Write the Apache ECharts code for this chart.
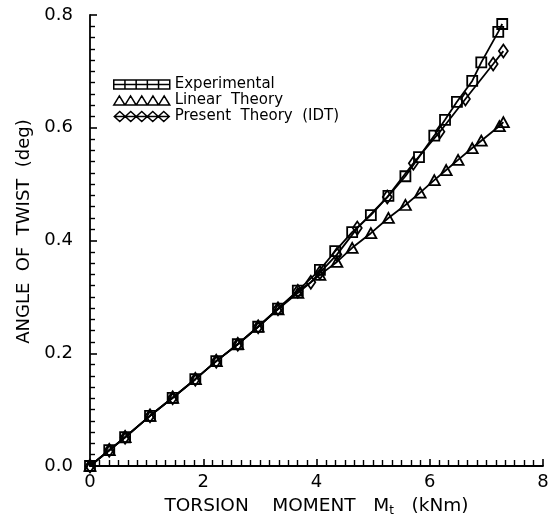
<!DOCTYPE html>
<html>
<head>
<meta charset="utf-8">
<script src="https://cdn.jsdelivr.net/npm/echarts@6/dist/echarts.min.js"></script>
<style>
  html, body { margin: 0; padding: 0; background: #fff; }
  #chart { width: 556px; height: 529px; }
</style>
</head>
<body>
<div id="chart"></div>
<script>
// torsion moment (kNm) and angle of twist (deg)
const expX = [0, 0.34, 0.62, 1.06, 1.46, 1.86, 2.23, 2.61, 2.97, 3.32, 3.67, 4.06, 4.33, 4.63, 4.96, 5.27, 5.57, 5.81, 6.08, 6.27, 6.48, 6.75, 6.91, 7.21, 7.28]
const expY = [0, 0.028, 0.051, 0.089, 0.121, 0.154, 0.186, 0.216, 0.247, 0.279, 0.311, 0.348, 0.381, 0.415, 0.445, 0.479, 0.514, 0.548, 0.586, 0.614, 0.646, 0.683, 0.716, 0.770, 0.784]

const linX = [0, 0.34, 0.62, 1.06, 1.46, 1.86, 2.23, 2.61, 2.97, 3.32, 3.67, 4.06, 4.36, 4.63, 4.96, 5.27, 5.57, 5.83, 6.08, 6.29, 6.50, 6.75, 6.91, 7.23, 7.30]
const linY = [0, 0.028, 0.051, 0.089, 0.121, 0.154, 0.186, 0.216, 0.247, 0.278, 0.307, 0.339, 0.362, 0.387, 0.413, 0.440, 0.463, 0.485, 0.507, 0.525, 0.543, 0.564, 0.577, 0.603, 0.610]

const idtX = [0, 0.34, 0.62, 1.06, 1.46, 1.86, 2.23, 2.61, 2.97, 3.32, 3.67, 3.90, 4.06, 4.36, 4.72, 5.25, 5.71, 6.18, 6.63, 7.12, 7.30]
const idtY = [0, 0.028, 0.051, 0.089, 0.121, 0.154, 0.186, 0.216, 0.247, 0.279, 0.310, 0.326, 0.343, 0.375, 0.422, 0.477, 0.537, 0.593, 0.651, 0.713, 0.736]

const xTicks = [0, 2, 4, 6, 8]
const yTicks = [0.0, 0.2, 0.4, 0.6, 0.8]

const pairs = (xs, ys) => xs.map((x, i) => [x, ys[i]])

const font = 'DejaVu Sans'

// five markers in a row for the legend keys
const iconSquares = 'path://M0 0h55v9h-55z M11 0v9 M22 0v9 M33 0v9 M44 0v9 M0 4.5h55'
const iconTriangles = 'path://M0 9L5.5 0L11 9Z M11 9L16.5 0L22 9Z M22 9L27.5 0L33 9Z M33 9L38.5 0L44 9Z M44 9L49.5 0L55 9Z M0 9h55'
const iconDiamonds = 'path://M0 5L5.5 0L11 5L5.5 10Z M11 5L16.5 0L22 5L16.5 10Z M22 5L27.5 0L33 5L27.5 10Z M33 5L38.5 0L44 5L38.5 10Z M44 5L49.5 0L55 5L49.5 10Z M0 5h55'

const chart = echarts.init(document.getElementById('chart'), null, { renderer: 'canvas' })

const seriesBase = {
  type: 'line',
  showAllSymbol: true,
  lineStyle: { color: '#000', width: 1.8 },
  itemStyle: { color: 'rgba(0,0,0,0)', borderColor: '#000', borderWidth: 1.8 },
  emphasis: { disabled: true },
  animation: false
}

chart.setOption({
  backgroundColor: '#fff',
  animation: false,
  grid: { left: 90, right: 13, top: 15, bottom: 63 },
  legend: {
    orient: 'vertical',
    left: 108,
    top: 72,
    itemWidth: 56,
    itemHeight: 10,
    itemGap: 1,
    itemStyle: { color: '#fff', borderColor: '#000', borderWidth: 1.5 },
    textStyle: { fontFamily: font, fontSize: 15, color: '#000', lineHeight: 14 },
    data: [
      { name: 'Experimental', icon: iconSquares },
      { name: 'Linear  Theory', icon: iconTriangles },
      { name: 'Present  Theory  (IDT)', icon: iconDiamonds }
    ]
  },
  xAxis: {
    type: 'value',
    min: xTicks[0],
    max: xTicks[xTicks.length - 1],
    interval: 2,
    name: 'TORSION    MOMENT   M{sub|t}   (kNm)',
    nameLocation: 'middle',
    nameGap: 29,
    nameTextStyle: {
      fontFamily: font, fontSize: 18.5, color: '#000',
      rich: { sub: { fontFamily: font, fontSize: 12, color: '#000', padding: [10, 0, 0, 0] } }
    },
    axisLine: { lineStyle: { color: '#000', width: 1.8 } },
    axisTick: { inside: true, length: 7, lineStyle: { color: '#000', width: 1.6 } },
    minorTick: { show: true, splitNumber: 12, length: 6, lineStyle: { color: '#000', width: 1.4 } },
    axisLabel: { fontFamily: font, fontSize: 18, color: '#000', margin: 7 },
    splitLine: { show: false }
  },
  yAxis: {
    type: 'value',
    min: yTicks[0],
    max: yTicks[yTicks.length - 1],
    interval: 0.2,
    name: 'ANGLE  OF  TWIST  (deg)',
    nameLocation: 'middle',
    nameGap: 51,
    nameTextStyle: { fontFamily: font, fontSize: 18, color: '#000', padding: [0, 0, 0, 18] },
    axisLine: { show: true, lineStyle: { color: '#000', width: 1.8 } },
    axisTick: { show: true, inside: true, length: 7, lineStyle: { color: '#000', width: 1.6 } },
    minorTick: { show: true, splitNumber: 10, length: 5, lineStyle: { color: '#000', width: 1.4 } },
    axisLabel: {
      fontFamily: font, fontSize: 18, color: '#000', margin: 17,
      formatter: (v) => v.toFixed(1)
    },
    splitLine: { show: false }
  },
  series: [
    Object.assign({}, seriesBase, {
      name: 'Experimental',
      symbol: 'rect',
      symbolSize: 10,
      data: pairs(expX, expY)
    }),
    Object.assign({}, seriesBase, {
      name: 'Linear  Theory',
      symbol: 'triangle',
      symbolSize: [11, 10],
      data: pairs(linX, linY)
    }),
    Object.assign({}, seriesBase, {
      name: 'Present  Theory  (IDT)',
      symbol: 'diamond',
      symbolSize: [9, 13],
      data: pairs(idtX, idtY)
    })
  ]
})
</script>
</body>
</html>
